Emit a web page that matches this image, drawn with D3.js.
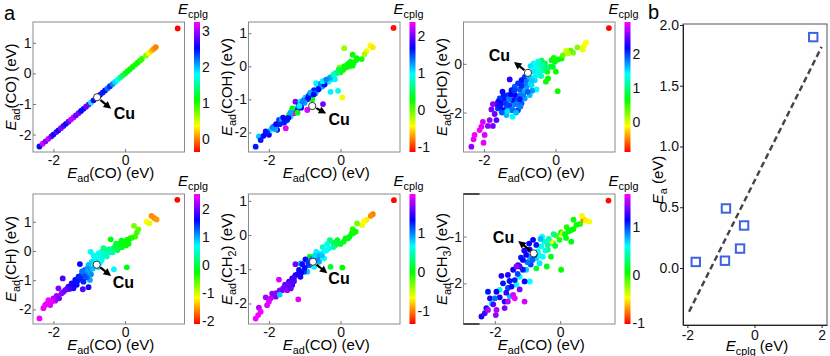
<!DOCTYPE html>
<html><head><meta charset="utf-8">
<script src="https://cdn.jsdelivr.net/npm/d3@7"></script>
<style>
body{margin:0;background:#fff;}
svg{display:block;font-family:Arial,"Liberation Sans",sans-serif;}
</style>
</head><body>
<svg id="c" width="830" height="356"></svg>
<script>
// ---------------- DATA ----------------
// each point: [Ead(CO), Ead(adsorbate), Ecplg]
const p1CO = [
 [-2.39,-2.39,2.5],[-2.30,-2.30,3.15],[-2.22,-2.22,2.9],[-2.14,-2.14,3.1],[-2.06,-2.06,2.85],[-2.00,-2.00,2.5],
 [-1.92,-1.92,2.8],[-1.86,-1.86,2.55],[-1.79,-1.79,2.9],[-1.72,-1.72,2.75],[-1.65,-1.65,2.5],[-1.58,-1.58,2.8],
 [-1.51,-1.51,3.1],[-1.44,-1.44,3.05],[-1.37,-1.37,2.8],[-1.30,-1.30,2.9],[-1.23,-1.23,2.6],[-1.16,-1.16,2.5],
 [-1.09,-1.09,2.8],[-1.02,-1.02,2.85],[-0.95,-0.95,1.85],[-0.88,-0.88,2.5],[-0.70,-0.70,2.5],[-0.63,-0.63,2.45],
 [-0.56,-0.56,2.5],[-0.49,-0.49,2.2],[-0.42,-0.42,2.45],[-0.35,-0.35,2.15],[-0.28,-0.28,1.9],[-0.21,-0.21,1.8],
 [-0.14,-0.14,1.5],[-0.07,-0.07,1.35],[0.00,0.00,1.2],[0.07,0.07,1.1],[0.14,0.14,1.1],[0.21,0.21,1.05],
 [0.28,0.28,1.0],[0.35,0.35,1.05],[0.42,0.42,1.0],[0.47,0.47,0.95],[0.58,0.58,0.7],[0.66,0.66,0.4],
 [0.74,0.74,0.2],[0.80,0.80,0.05],[0.86,0.86,0.0],[1.47,1.47,-0.35]
];
const p2COH = [
 [1.48,1.16,-1.1],[0.83,0.63,-0.45],[0.90,0.57,-0.5],[0.73,0.46,-0.4],[0.67,0.37,-0.2],[0.59,0.22,0.2],[0.10,0.55,-0.15],[0.34,0.35,0.25],
 [0.44,0.19,0.3],[0.37,0.11,0.25],[0.31,0.06,0.3],[0.23,-0.01,0.2],[0.14,-0.04,0.3],[0.07,-0.11,0.25],[0.00,-0.18,0.35],[0.34,0.02,0.3],[0.28,0.14,0.2],[0.19,0.06,0.25],
 [-0.03,-0.03,-0.1],[-0.14,-0.21,0.55],[0.05,-0.94,-0.4],[-0.07,-0.74,0.9],[-0.28,-0.77,1.0],[-0.49,-1.14,2.0],
 [-2.37,-2.43,1.6],[-2.28,-2.12,1.1],[-2.23,-2.23,1.6],[-2.09,-1.97,1.6],[-2.00,-2.07,1.7],[-1.95,-1.92,1.0],[-1.86,-1.82,1.6],[-1.77,-1.92,1.7],
 [-1.72,-1.62,1.5],[-1.67,-1.72,1.0],[-1.63,-1.57,1.1],[-1.53,-1.87,2.3],[-1.55,-1.67,1.3],[-1.49,-1.62,1.6],[-1.44,-1.47,0.3],[-1.39,-1.52,1.0],
 [-1.35,-1.37,1.6],[-1.30,-1.42,2.3],[-1.26,-1.07,2.0],[-1.26,-1.27,0.9],[-1.21,-1.32,1.6],[-1.16,-1.17,1.7],[-1.12,-1.07,1.0],[-1.07,-1.12,1.6],
 [-1.02,-1.02,1.7],[-0.98,-0.94,1.1],[-0.93,-1.00,1.9],[-0.88,-0.87,1.6],[-0.84,-0.92,1.7],[-0.79,-1.00,0.3],[-0.79,-0.77,1.0],[-0.74,-0.72,1.6],
 [-0.70,-0.82,1.2],[-0.65,-0.56,0.95],[-0.60,-0.66,1.5],[-0.56,-0.56,1.6],[-0.51,-0.61,1.2],[-0.46,-0.46,1.5],[-0.42,-0.51,1.1],[-0.37,-0.41,1.6],
 [-0.33,-0.46,1.0],[-0.28,-0.33,0.3],[-0.23,-0.39,0.9],[-0.19,-0.29,0.5],[-0.16,-0.39,1.0],[-0.68,-0.51,1.0],[-1.35,-1.27,0.3],[-0.93,-1.32,2.3],
 [-1.20,-1.40,0.3],[-1.10,-1.25,1.7],[-0.90,-0.95,1.65],[-0.62,-0.70,1.65],[-0.55,-0.52,1.3],[-0.45,-0.55,1.65],[-0.30,-0.35,1.2],[-0.10,-0.20,0.6],
 [-1.58,-1.70,1.6],[-1.82,-1.90,1.2],[-2.15,-2.10,1.7],[-1.00,-1.10,1.2],
 [-2.05,-2.00,1.6],[-1.90,-1.85,1.3],[-1.80,-1.75,1.65],[-1.70,-1.75,1.6],[-1.60,-1.55,1.7],[-1.45,-1.55,1.65],[-1.40,-1.40,1.2],[-1.15,-1.20,1.0],
 [-1.05,-1.05,1.3],[-0.85,-0.80,1.2],[-0.75,-0.85,1.65],[-0.50,-0.45,1.0],[-0.40,-0.40,1.3],[-0.20,-0.25,0.8],[-0.05,-0.10,0.5],[0.10,0.00,0.3],
 [0.25,0.10,0.3],[0.45,0.25,0.25]
];
const p3CHO = [
 [1.49,1.47,-0.85],[0.85,0.87,-0.1],[0.76,0.59,-0.05],[0.79,0.73,-0.1],[0.61,0.68,0.25],[0.49,0.46,0.3],[0.42,0.54,0.4],[0.29,0.54,0.0],[0.35,0.43,0.1],
 [0.17,0.22,0.65],[0.07,0.18,0.6],[-0.02,0.09,0.7],[-0.11,0.15,0.7],[0.01,-0.32,0.6],[-0.16,-0.12,0.7],[-0.23,-0.32,0.6],[-0.21,-0.60,0.65],
 [-0.27,-0.73,0.6],[0.06,-1.12,0.6],[-0.30,0.02,0.8],[-0.39,0.13,0.9],[-0.07,-0.12,0.8],[0.20,0.35,0.35],[-0.05,0.25,0.6],
 [-0.49,0.09,1.3],[-0.61,0.02,1.4],[-0.70,-0.09,1.5],[-0.44,-0.12,1.2],[-0.55,-0.26,1.4],[-0.35,-0.26,1.1],[-0.51,-0.46,1.4],[-0.58,-0.67,1.5],
 [-0.53,-1.05,1.4],[-0.67,-0.87,1.5],[-0.77,-0.64,1.6],[-0.62,-0.30,1.45],[-0.45,-0.35,1.3],[-0.85,-0.80,1.75],[-0.65,-1.10,1.7],[-0.40,-0.50,1.2],
 [-0.86,-0.53,2.0],[-0.95,-0.67,2.1],[-1.05,-0.80,2.0],[-1.14,-0.94,1.9],[-1.23,-1.08,2.1],[-1.28,-0.64,2.3],[-1.33,-1.28,2.0],[-1.42,-1.49,2.1],
 [-1.51,-1.62,2.2],[-1.48,-1.14,2.2],[-1.37,-1.76,1.9],[-1.19,-1.69,1.7],[-1.28,-1.90,1.6],[-1.37,-2.10,1.6],[-1.20,-2.17,1.4],[-1.09,-1.49,1.9],
 [-1.00,-1.28,1.8],[-0.91,-1.08,1.8],[-0.81,-0.94,1.7],[-1.05,-1.90,2.0],[-1.14,-1.28,2.2],[-0.95,-1.62,1.9],[-1.19,-1.49,2.1],[-0.86,-1.42,1.7],
 [-0.72,-1.28,1.6],[-1.56,-1.42,2.0],[-1.47,-1.90,2.2],[-1.61,-1.83,2.0],
 [-1.45,-1.30,2.1],[-1.40,-1.60,2.0],[-1.30,-1.45,1.8],[-1.25,-1.25,2.15],[-1.15,-1.10,2.0],[-1.10,-1.65,1.8],[-1.00,-1.45,2.1],[-1.00,-1.05,1.9],
 [-0.95,-0.90,2.05],[-0.90,-1.25,1.8],[-0.85,-1.10,1.6],[-0.80,-0.75,1.8],[-0.75,-0.50,1.6],[-0.70,-0.80,1.5],[-0.60,-0.55,1.45],[-0.55,-0.10,1.35],
 [-0.45,0.00,1.25],[-0.35,-0.05,1.15],[-0.25,-0.15,1.0],[-1.55,-1.75,2.1],[-1.50,-2.00,1.9],[-1.30,-1.70,2.0],[-1.20,-1.90,1.85],[-1.10,-2.00,1.6],
 [-1.35,-1.95,1.5],[-1.60,-1.55,2.15],[-1.65,-1.65,2.3],[-0.98,-1.75,1.8],[-0.78,-1.15,1.9],[-0.66,-0.70,1.55],
 [-1.75,-1.65,2.6],[-1.79,-1.87,2.5],[-1.70,-2.06,2.5],[-1.84,-2.31,2.6],[-1.65,-2.31,2.4],[-1.75,-2.55,2.5],[-1.89,-2.55,2.6],
 [-2.03,-2.38,2.8],[-2.07,-2.58,2.85],[-2.12,-2.72,2.9],[-2.26,-2.92,2.9],[-2.29,-3.10,2.85],[-1.98,-2.92,2.8],[-2.01,-3.24,2.85],[-2.35,-3.40,2.6]
];
const p4CH = [
 [1.46,1.75,-2.1],[0.74,1.20,-1.6],[0.81,1.13,-1.6],[0.88,1.08,-1.55],[0.60,1.00,-1.2],[0.68,0.95,-1.1],
 [0.25,0.86,-0.7],[0.37,0.74,-0.6],[0.33,0.63,-0.5],[0.28,0.49,-0.45],
 [0.14,0.43,-0.3],[0.05,0.38,-0.25],[-0.07,0.29,-0.2],[-0.16,0.24,-0.1],[-0.28,0.15,0.0],[-0.37,0.06,0.05],[-0.40,0.40,-0.25],[-0.21,0.03,0.0],
 [-0.09,0.13,-0.1],[0.03,0.19,-0.3],[0.05,-0.56,-0.2],[-0.20,0.20,-0.05],[-0.10,0.35,-0.2],[0.10,0.25,-0.2],
 [-0.46,-0.06,0.5],[-0.56,0.03,0.3],[-0.65,-0.02,0.5],[-0.74,-0.08,0.6],[-0.96,-0.03,0.7],[-0.84,-0.25,0.7],[-0.93,-0.37,0.8],[-1.02,-0.48,0.9],
 [-0.65,-0.31,0.6],[-0.51,-0.19,0.5],[-0.31,-0.63,0.7],[-0.99,-0.65,1.0],[-0.98,-0.99,1.0],[-0.85,-0.45,0.75],[-0.70,-0.40,0.65],[-0.60,-0.15,0.45],
 [-1.12,-0.65,1.3],[-1.26,-0.45,1.6],[-1.21,-0.82,1.5],[-1.30,-0.88,1.5],[-1.39,-0.99,1.6],[-1.49,-1.11,1.7],[-1.58,-1.22,1.8],[-1.07,-0.90,1.3],
 [-1.16,-1.05,1.5],[-1.02,-1.24,1.7],[-1.18,-1.31,1.9],[-1.74,-0.94,1.9],[-1.35,-1.16,1.6],[-1.44,-1.28,1.7],[-1.10,-0.75,1.1],[-0.90,-0.60,0.9],
 [-1.30,-1.00,1.4],[-1.50,-1.20,1.75],[-1.62,-1.30,1.9],
 [-0.80,-0.30,0.7],[-0.75,-0.55,0.8],[-0.68,-0.20,0.55],[-0.55,-0.10,0.45],[-0.45,0.05,0.3],[-0.35,-0.05,0.35],[-0.88,-0.15,0.65],[-1.05,-0.60,1.05],
 [-1.15,-0.85,1.35],[-1.25,-0.95,1.5],[-1.35,-1.05,1.55],[-1.45,-1.18,1.7],[-1.55,-1.30,1.85],[-1.20,-0.70,1.2],[-0.95,-0.80,1.1],[-0.60,0.10,0.25],
 [-0.25,0.25,-0.05],[0.00,0.30,-0.25],[0.18,0.45,-0.35],[-1.95,-1.70,2.25],[-2.18,-1.80,2.5],[-1.72,-1.40,2.05],
 [-1.67,-1.34,2.0],[-1.77,-1.45,2.1],[-1.86,-1.28,2.1],[-1.91,-1.54,2.2],[-2.00,-1.62,2.3],[-1.84,-1.62,2.1],
 [-2.05,-1.74,2.45],[-2.14,-1.68,2.5],[-2.23,-1.85,2.5],[-2.28,-1.96,2.5],[-2.09,-1.85,2.45],[-2.39,-2.31,2.5]
];
const p5CH2 = [
 [1.49,1.02,-1.3],[0.90,0.61,-1.0],[0.84,0.56,-0.95],[0.72,0.44,-0.7],[0.60,0.29,-0.6],[0.65,0.39,-0.65],[0.46,0.34,-0.3],[0.34,0.17,-0.1],
 [0.42,0.10,0.0],[0.31,0.05,0.0],[0.25,-0.05,0.05],[0.14,-0.10,0.0],[0.09,-0.19,0.1],[0.00,-0.26,0.05],[-0.09,-0.15,0.1],[-0.14,-0.29,0.15],
 [-0.21,-0.22,0.2],[0.05,-0.95,0.0],[-0.28,-0.93,0.1],[-0.86,-0.63,0.05],[-0.30,-0.15,0.3],
 [-0.37,-0.26,0.6],[-0.33,-0.39,0.65],[-0.44,-0.46,0.7],[-0.56,-0.54,0.7],[-0.46,-0.68,0.65],[-0.68,-0.49,0.7],[-0.74,-0.93,0.7],[-0.93,-1.07,0.8],
 [-1.12,-0.83,0.8],[-0.60,-0.78,0.85],[-0.50,-0.35,0.5],[-0.62,-0.62,0.9],[-0.80,-0.70,1.0],
 [-0.98,-0.71,1.3],[-1.07,-0.85,1.35],[-1.16,-1.02,1.3],[-1.26,-1.17,1.35],[-1.35,-1.27,1.4],[-1.44,-1.36,1.45],[-1.53,-1.51,1.5],[-1.26,-0.85,1.6],
 [-1.02,-1.07,1.2],[-1.12,-1.22,1.3],[-0.88,-0.88,1.1],[-1.35,-1.46,1.45],[-1.30,-1.35,1.55],[-1.55,-1.45,1.6],
 [-0.40,-0.45,0.65],[-0.52,-0.60,0.8],[-0.65,-0.70,0.95],[-0.72,-0.60,0.75],[-0.90,-0.80,1.2],[-1.00,-0.95,1.3],[-1.10,-1.10,1.35],[-1.20,-1.15,1.4],
 [-1.30,-1.25,1.5],[-1.40,-1.40,1.55],[-1.48,-1.45,1.6],[-1.60,-1.55,1.65],[-1.70,-1.62,1.7],[-1.80,-1.70,1.7],[-1.50,-1.55,1.55],[-0.20,-0.35,0.4],
 [-0.10,-0.25,0.2],[0.20,-0.10,0.05],[0.35,0.05,-0.05],[-1.95,-1.85,1.85],
 [-1.63,-1.61,1.6],[-1.72,-1.71,1.65],[-1.81,-1.80,1.65],[-1.91,-1.71,1.7],[-1.49,-1.61,1.7],[-1.39,-1.56,1.6],[-2.09,-1.82,1.75],[-1.18,-1.88,1.9],
 [-1.72,-1.30,1.9],[-1.70,-1.74,0.8],
 [-2.00,-1.95,1.9],[-2.05,-2.05,1.9],[-2.28,-2.12,1.8],[-2.23,-2.24,1.95],[-2.30,-2.34,1.95],[-2.37,-2.44,1.95]
];
const p6CH3 = [
 [1.48,-0.23,-1.0],[0.71,-0.64,-0.75],[0.67,-0.56,-0.5],[0.89,-0.68,-0.45],[0.79,-0.66,-0.5],
 [0.41,-0.64,0.05],[0.61,-0.73,0.0],[0.34,-0.86,0.05],[0.41,-0.84,0.05],[0.26,-0.89,0.1],[0.03,-0.91,0.05],[-0.12,-0.98,-0.1],[-0.02,-1.07,0.0],
 [0.18,-1.03,0.1],[0.34,-1.11,0.1],[-0.22,-1.14,0.2],[0.03,-1.71,0.05],[-0.38,-1.28,0.3],[-0.28,-1.43,0.1],[-0.41,-1.64,0.1],[-0.73,-1.68,0.15],
 [-0.27,-1.11,-0.45],[0.08,-0.93,-0.4],[-0.20,-0.95,0.35],[0.20,-0.80,0.0],
 [-0.48,-1.11,0.5],[-0.58,-1.21,0.55],[-0.38,-1.18,0.4],[-0.68,-1.32,0.6],[-0.53,-1.43,0.6],[-0.73,-1.46,0.7],[-0.63,-1.57,0.65],[-0.93,-1.43,0.8],
 [-1.04,-1.71,0.7],[-1.24,-1.86,0.6],[-0.93,-1.96,0.6],[-1.34,-2.03,0.6],[-1.85,-2.14,0.55],[-1.54,-2.28,0.75],[-2.10,-2.43,0.6],[-0.55,-1.00,0.6],
 [-0.90,-1.60,1.0],[-1.60,-2.10,1.0],
 [-0.95,-1.15,1.15],[-1.10,-1.30,1.2],[-1.20,-1.45,1.1],[-1.00,-1.55,0.9],[-0.85,-1.50,0.95],[-0.65,-1.40,0.6],[-0.45,-1.30,0.5],[-0.35,-1.05,0.45],
 [-0.60,-1.05,0.75],[-1.55,-1.95,1.1],[-1.65,-2.20,1.25],[-1.85,-2.30,1.2],[-2.05,-2.45,1.3],[-1.30,-1.80,1.0],[-0.15,-1.20,0.2],[0.15,-0.95,0.1],
 [0.50,-0.75,0.05],
 [-0.93,-1.28,1.2],[-1.04,-1.39,1.15],[-0.78,-1.39,1.1],[-1.14,-1.50,1.15],[-1.29,-1.61,1.2],[-1.80,-1.84,1.2],[-1.44,-1.71,1.15],[-1.60,-1.82,1.2],
 [-1.14,-1.71,1.1],[-1.39,-1.93,1.1],[-1.75,-2.00,1.1],[-1.95,-2.18,1.15],[-2.15,-2.32,1.2],[-2.21,-2.18,1.1],[-2.00,-2.32,0.9],[-2.26,-2.53,1.2],
 [-2.41,-2.71,1.2],[-2.31,-2.64,1.3],[-1.70,-2.39,1.2],[-1.24,-1.64,1.3],[-1.49,-2.07,1.2],[-1.09,-1.96,1.15],[-0.83,-1.07,1.15],[-0.73,-1.18,1.1],
 [-1.34,-1.64,1.45],[-1.44,-2.25,1.6],[-1.39,-2.32,1.65],[-1.60,-2.39,1.55],[-1.09,-2.39,1.6],[-1.95,-2.57,1.5],[-1.97,-2.68,1.45],[-1.70,-2.53,1.4],
 [-2.21,-2.57,1.5],[-1.24,-2.13,1.4]
];
// Cu reference point in each panel
const cuX = [-0.78,-0.79,-0.77,-0.79,-0.77,-0.81];
const cuY = [-0.78,-1.20,-0.37,-0.47,-0.78,-1.36];
// adsorbate names
const adsNames = [["CO"],["COH"],["CHO"],["CH"],["CH",2],["CH",3]];
// axis domains & ticks
const xDomains = [[-2.57,1.66],[-2.57,1.66],[-2.57,1.66],[-2.57,1.66],[-2.57,1.66],[-2.96,1.68]];
const yDomains = [[-2.57,1.68],[-2.59,1.34],[-3.62,1.72],[-2.5,1.95],[-2.6,1.2],[-2.87,-0.09]];
const xTicks = [[-2,0],[-2,0],[-2,0],[-2,0],[-2,0],[-2,0]];
const yTicks = [[1,0,-1,-2],[1,0,-1,-2],[0,-2],[1,0,-1,-2],[1,0,-1,-2],[-1,-2]];
const cDomains = [[-0.37,3.25],[-1.14,2.37],[-0.87,2.92],[-2.12,2.55],[-1.32,1.98],[-1.02,1.68]];
const cTicks = [[0,1,2,3],[-1,0,1,2],[0,1,2],[-2,-1,0,1,2],[-1,0,1],[-1,0,1]];
// panel b
const bEcplg = [-1.75,-0.85,-0.88,-0.43,-0.31,1.75];
const bEa    = [0.05,0.49,0.06,0.16,0.35,1.90];
const fitX = [-1.95,2.0];
const fitY = [-0.36,1.82];
const bXTicks = [-2,0,2];
const bYTicks = [0,0.5,1,1.5,2];

// ---------------- LAYOUT ----------------
const svg = d3.select("#c");
const boxW = 151.5, boxH = 130;
const lefts = [33,248.5,463.5,33,248.5,463.5];
const tops  = [22,22,22,194,194,194];
const cuArrow = [[14,11.6],[14,7.5],[-14,-11],[14.3,11.3],[14.4,11.6],[-15.5,-12.5]];
const cuText  = [[16.6,21.3,"start"],[16.3,19,"start"],[-18,-12,"end"],[16,23.3,"start"],[15.4,22.3,"start"],[-19.5,-10.6,"end"]];

const hueOf = (dom) => d3.scaleLinear().domain(dom).range([0,300]).clamp(true);
const colOf = (h) => d3.hsl(h,1,0.5).formatHex();

function richText(g, segs, size){
  const t = g.append("text").attr("font-size",size);
  let sub=false;
  segs.forEach(s=>{
    const ts = t.append("tspan").text(s.t);
    if(s.it) ts.attr("font-style","italic");
    if(s.sub && !sub){ ts.attr("dy",size*0.28).attr("font-size",size*0.72); sub=true; }
    else if(s.sub){ ts.attr("font-size",size*0.72); }
    else if(!s.sub && sub){ ts.attr("dy",-size*0.28); sub=false; }
  });
  return t;
}
function eadLabel(name){
  const segs=[{t:"E",it:true},{t:"ad",sub:true},{t:"("+name[0]}];
  if(name[1]) segs.push({t:String(name[1]),sub:true});
  segs.push({t:") (eV)"});
  return segs;
}
function arrow(g,x0,y0,x1,y1){
  const dx=x1-x0, dy=y1-y0, L=Math.hypot(dx,dy), ux=dx/L, uy=dy/L;
  const hl=7.5, hw=3.8;
  const bx=x1-ux*hl, by=y1-uy*hl;
  g.append("line").attr("x1",x0).attr("y1",y0).attr("x2",bx+ux*1).attr("y2",by+uy*1)
   .attr("stroke","#000").attr("stroke-width",2.2);
  g.append("path").attr("d",`M${x1},${y1}L${bx-uy*hw},${by+ux*hw}L${bx+uy*hw},${by-ux*hw}Z`).attr("fill","#000");
}

const allData=[p1CO,p2COH,p3CHO,p4CH,p5CH2,p6CH3];
const defs = svg.append("defs");
const tickFmt = d=>String(d);

allData.forEach((data,i)=>{
  const L=lefts[i], T=tops[i];
  const x=d3.scaleLinear().domain(xDomains[i]).range([L,L+boxW]);
  const y=d3.scaleLinear().domain(yDomains[i]).range([T+boxH,T]);
  const hue=hueOf(cDomains[i]);
  const g=svg.append("g");
  g.append("rect").attr("x",L).attr("y",T).attr("width",boxW).attr("height",boxH)
   .attr("fill","none").attr("stroke","#8a8a8a").attr("stroke-width",1);
  const ax=g.append("g").attr("transform",`translate(0,${T+boxH})`)
    .call(d3.axisBottom(x).tickValues(xTicks[i]).tickFormat(tickFmt).tickSize(-3).tickSizeOuter(0).tickPadding(3));
  const ay=g.append("g").attr("transform",`translate(${L},0)`)
    .call(d3.axisLeft(y).tickValues(yTicks[i]).tickFormat(tickFmt).tickSize(-3).tickSizeOuter(0).tickPadding(1.5));
  [ax,ay].forEach(a=>{a.select(".domain").remove();
    a.selectAll("line").attr("stroke","#777");
    a.selectAll("text").attr("font-size",14).attr("fill","#111");
    a.attr("font-family",null);});
  g.append("g").selectAll("circle").data(data).join("circle")
   .attr("cx",d=>x(d[0])).attr("cy",d=>y(d[1])).attr("r",2.9)
   .attr("fill",d=>colOf(hue(d[2])));
  const cx=x(cuX[i]), cy=y(cuY[i]);
  const tip=cuArrow[i];
  const d0=Math.hypot(tip[0],tip[1]);
  arrow(g,cx+tip[0]/d0*4.5,cy+tip[1]/d0*4.5,cx+tip[0],cy+tip[1]);
  g.append("circle").attr("cx",cx).attr("cy",cy).attr("r",3.6).attr("fill","#fff").attr("stroke","#333").attr("stroke-width",1);
  const ct=cuText[i];
  g.append("text").attr("x",cx+ct[0]).attr("y",cy+ct[1]).attr("text-anchor",ct[2])
   .attr("font-size",16).attr("font-weight","bold").text("Cu");
  const xt=richText(g,eadLabel(["CO"]),15);
  xt.attr("x",L+boxW/2+2).attr("y",T+boxH+26).attr("text-anchor","middle");
  const yt=richText(g,eadLabel(adsNames[i]),15);
  yt.attr("text-anchor","middle").attr("transform",`translate(${L-17},${T+boxH/2}) rotate(-90)`);
  const cbx=L+boxW+9.5, cbw=6;
  const gid="grad"+i;
  const gr=defs.append("linearGradient").attr("id",gid).attr("x1",0).attr("y1",1).attr("x2",0).attr("y2",0);
  d3.range(0,301,15).forEach(h=>gr.append("stop").attr("offset",h/300).attr("stop-color",colOf(h)));
  g.append("rect").attr("x",cbx).attr("y",T).attr("width",cbw).attr("height",boxH).attr("fill",`url(#${gid})`);
  const cs=d3.scaleLinear().domain(cDomains[i]).range([T+boxH,T]);
  const ac=g.append("g").attr("transform",`translate(${cbx+cbw},0)`)
    .call(d3.axisRight(cs).tickValues(cTicks[i]).tickFormat(tickFmt).tickSize(0).tickPadding(2));
  ac.select(".domain").remove();
  ac.selectAll("text").attr("font-size",14).attr("fill","#111");
  ac.attr("font-family",null);
  const et=richText(g,[{t:"E",it:true},{t:"cplg",sub:true}],15);
  et.attr("x",cbx+cbw/2-4).attr("y",T-8).attr("text-anchor","middle");
  if(i===5){
    [T,T+boxH].forEach(yy=>g.append("line").attr("x1",L).attr("x2",L+16).attr("y1",yy).attr("y2",yy)
      .attr("stroke","#222").attr("stroke-width",1.5));
  }
});

// ---------------- PANEL b ----------------
{
  const L=683,R=827,T=24,B=325;
  const x=d3.scaleLinear().domain([-2.13,2.16]).range([L,R]);
  const y=d3.scaleLinear().domain([-0.469,2.008]).range([B,T]);
  const g=svg.append("g");
  g.append("rect").attr("x",L).attr("y",T).attr("width",R-L).attr("height",B-T)
   .attr("fill","none").attr("stroke","#555").attr("stroke-width",1);
  const ax=g.append("g").attr("transform",`translate(0,${B})`)
    .call(d3.axisBottom(x).tickValues(bXTicks).tickFormat(tickFmt).tickSize(3).tickSizeOuter(0).tickPadding(2));
  const ay=g.append("g").attr("transform",`translate(${L},0)`)
    .call(d3.axisLeft(y).tickValues(bYTicks).tickFormat(d3.format(".1f")).tickSize(3).tickSizeOuter(0).tickPadding(1));
  [ax,ay].forEach(a=>{a.select(".domain").attr("stroke","#222");
    a.selectAll("line").attr("stroke","#222");
    a.selectAll("text").attr("font-size",14).attr("fill","#111");
    a.attr("font-family",null);});
  g.append("line").attr("x1",x(fitX[0])).attr("y1",y(fitY[0])).attr("x2",x(fitX[1])).attr("y2",y(fitY[1]))
   .attr("stroke","#444").attr("stroke-width",2.4).attr("stroke-dasharray","6,3.5");
  g.append("g").selectAll("rect").data(bEcplg.map((v,k)=>[v,bEa[k]])).join("rect")
   .attr("x",d=>x(d[0])-4.2).attr("y",d=>y(d[1])-4.2).attr("width",8.4).attr("height",8.4)
   .attr("fill","none").attr("stroke","#3d63dd").attr("stroke-width",2);
  const xt=richText(g,[{t:"E",it:true},{t:"cplg",sub:true},{t:" (eV)"}],15);
  xt.attr("x",757).attr("y",351).attr("text-anchor","middle");
  const yt=richText(g,[{t:"E",it:true},{t:"a",sub:true},{t:" (eV)"}],15);
  yt.attr("text-anchor","middle").attr("transform",`translate(663,180) rotate(-90)`);
}
svg.append("text").attr("x",4).attr("y",20).attr("font-size",20).text("a");
svg.append("text").attr("x",648).attr("y",19).attr("font-size",20).text("b");
</script>
</body></html>
